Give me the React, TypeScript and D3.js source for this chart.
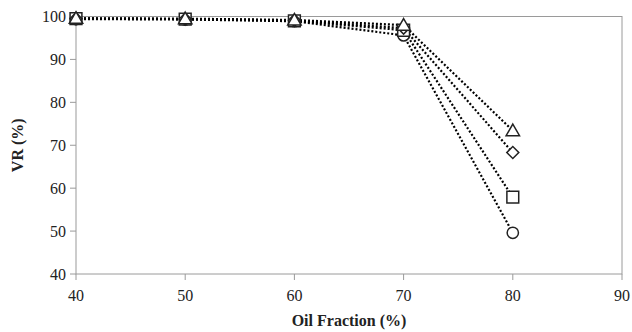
import React, { useEffect, useRef } from 'react';
import * as d3 from 'd3';

const oilFraction = [40, 50, 60, 70, 80];
const circleVR = [99.4, 99.3, 98.9, 95.6, 49.6];
const squareVR = [99.5, 99.4, 99.0, 96.8, 57.9];
const diamondVR = [99.5, 99.4, 99.1, 97.3, 68.3];
const triangleVR = [99.6, 99.5, 99.2, 98.0, 73.4];
const xTicks = [40, 50, 60, 70, 80, 90];
const yTicks = [40, 50, 60, 70, 80, 90, 100];

const series = [
  { name: 'circle', values: circleVR, symbol: d3.symbolCircle, size: 100, rotate: 0, dy: 0 },
  { name: 'square', values: squareVR, symbol: d3.symbolSquare, size: 140, rotate: 0, dy: 0 },
  { name: 'diamond', values: diamondVR, symbol: d3.symbolSquare, size: 72, rotate: 45, dy: 0 },
  { name: 'triangle', values: triangleVR, symbol: d3.symbolTriangle, size: 78, rotate: 0, dy: 1.2 },
];

const App = () => {
  const svgRef = useRef<SVGSVGElement | null>(null);

  useEffect(() => {
    document.body.style.margin = '0';
    const svg = d3.select(svgRef.current);
    svg.selectAll('*').remove();

    const left = 76, right = 622, top = 16.5, bottom = 274;
    const x = d3.scaleLinear().domain([40, 90]).range([left, right]);
    const y = d3.scaleLinear().domain([40, 100]).range([bottom, top]);
    const font = '"Liberation Serif", "DejaVu Serif", serif';
    const gray = '#9a9a9a';

    // plot frame
    svg.append('rect')
      .attr('x', left).attr('y', top)
      .attr('width', right - left).attr('height', bottom - top)
      .attr('fill', 'none').attr('stroke', gray).attr('stroke-width', 1);

    // y ticks
    const yg = svg.append('g');
    yTicks.forEach((t) => {
      yg.append('line')
        .attr('x1', left - 6).attr('x2', left)
        .attr('y1', y(t)).attr('y2', y(t))
        .attr('stroke', gray);
      yg.append('text')
        .attr('x', left - 10).attr('y', y(t))
        .attr('dy', '0.35em')
        .attr('text-anchor', 'end')
        .attr('font-family', font).attr('font-size', 16)
        .attr('fill', '#222')
        .text(t);
    });

    // x ticks
    const xg = svg.append('g');
    xTicks.forEach((t) => {
      xg.append('line')
        .attr('x1', x(t)).attr('x2', x(t))
        .attr('y1', bottom).attr('y2', bottom + 6)
        .attr('stroke', gray);
      xg.append('text')
        .attr('x', x(t)).attr('y', bottom + 27)
        .attr('text-anchor', 'middle')
        .attr('font-family', font).attr('font-size', 16)
        .attr('fill', '#222')
        .text(t);
    });

    // axis titles
    svg.append('text')
      .attr('x', (left + right) / 2).attr('y', 326)
      .attr('text-anchor', 'middle')
      .attr('font-family', font).attr('font-size', 16).attr('font-weight', 'bold')
      .attr('fill', '#222')
      .text('Oil Fraction (%)');
    svg.append('text')
      .attr('transform', `translate(23,${(top + bottom) / 2}) rotate(-90)`)
      .attr('text-anchor', 'middle')
      .attr('font-family', font).attr('font-size', 16).attr('font-weight', 'bold')
      .attr('fill', '#222')
      .text('VR (%)');

    const line = d3.line<number>()
      .x((_, i) => x(oilFraction[i]))
      .y((d) => y(d));

    // dotted lines
    series.forEach((s) => {
      svg.append('path')
        .attr('d', line(s.values))
        .attr('fill', 'none')
        .attr('stroke', '#000')
        .attr('stroke-width', 2.2)
        .attr('stroke-dasharray', '2,2');
    });

    // markers
    series.forEach((s) => {
      const sym = d3.symbol().type(s.symbol).size(s.size);
      svg.append('g')
        .selectAll('path')
        .data(s.values)
        .enter()
        .append('path')
        .attr('d', sym() as string)
        .attr('transform', (d, i) => `translate(${x(oilFraction[i])},${y(d) + s.dy}) rotate(${s.rotate})`)
        .attr('fill', '#fff')
        .attr('stroke', '#222')
        .attr('stroke-width', 1.5);
    });
  }, []);

  return <svg ref={svgRef} width={632} height={332} style={{ display: 'block', background: '#fff' }} />;
};

export default App;
